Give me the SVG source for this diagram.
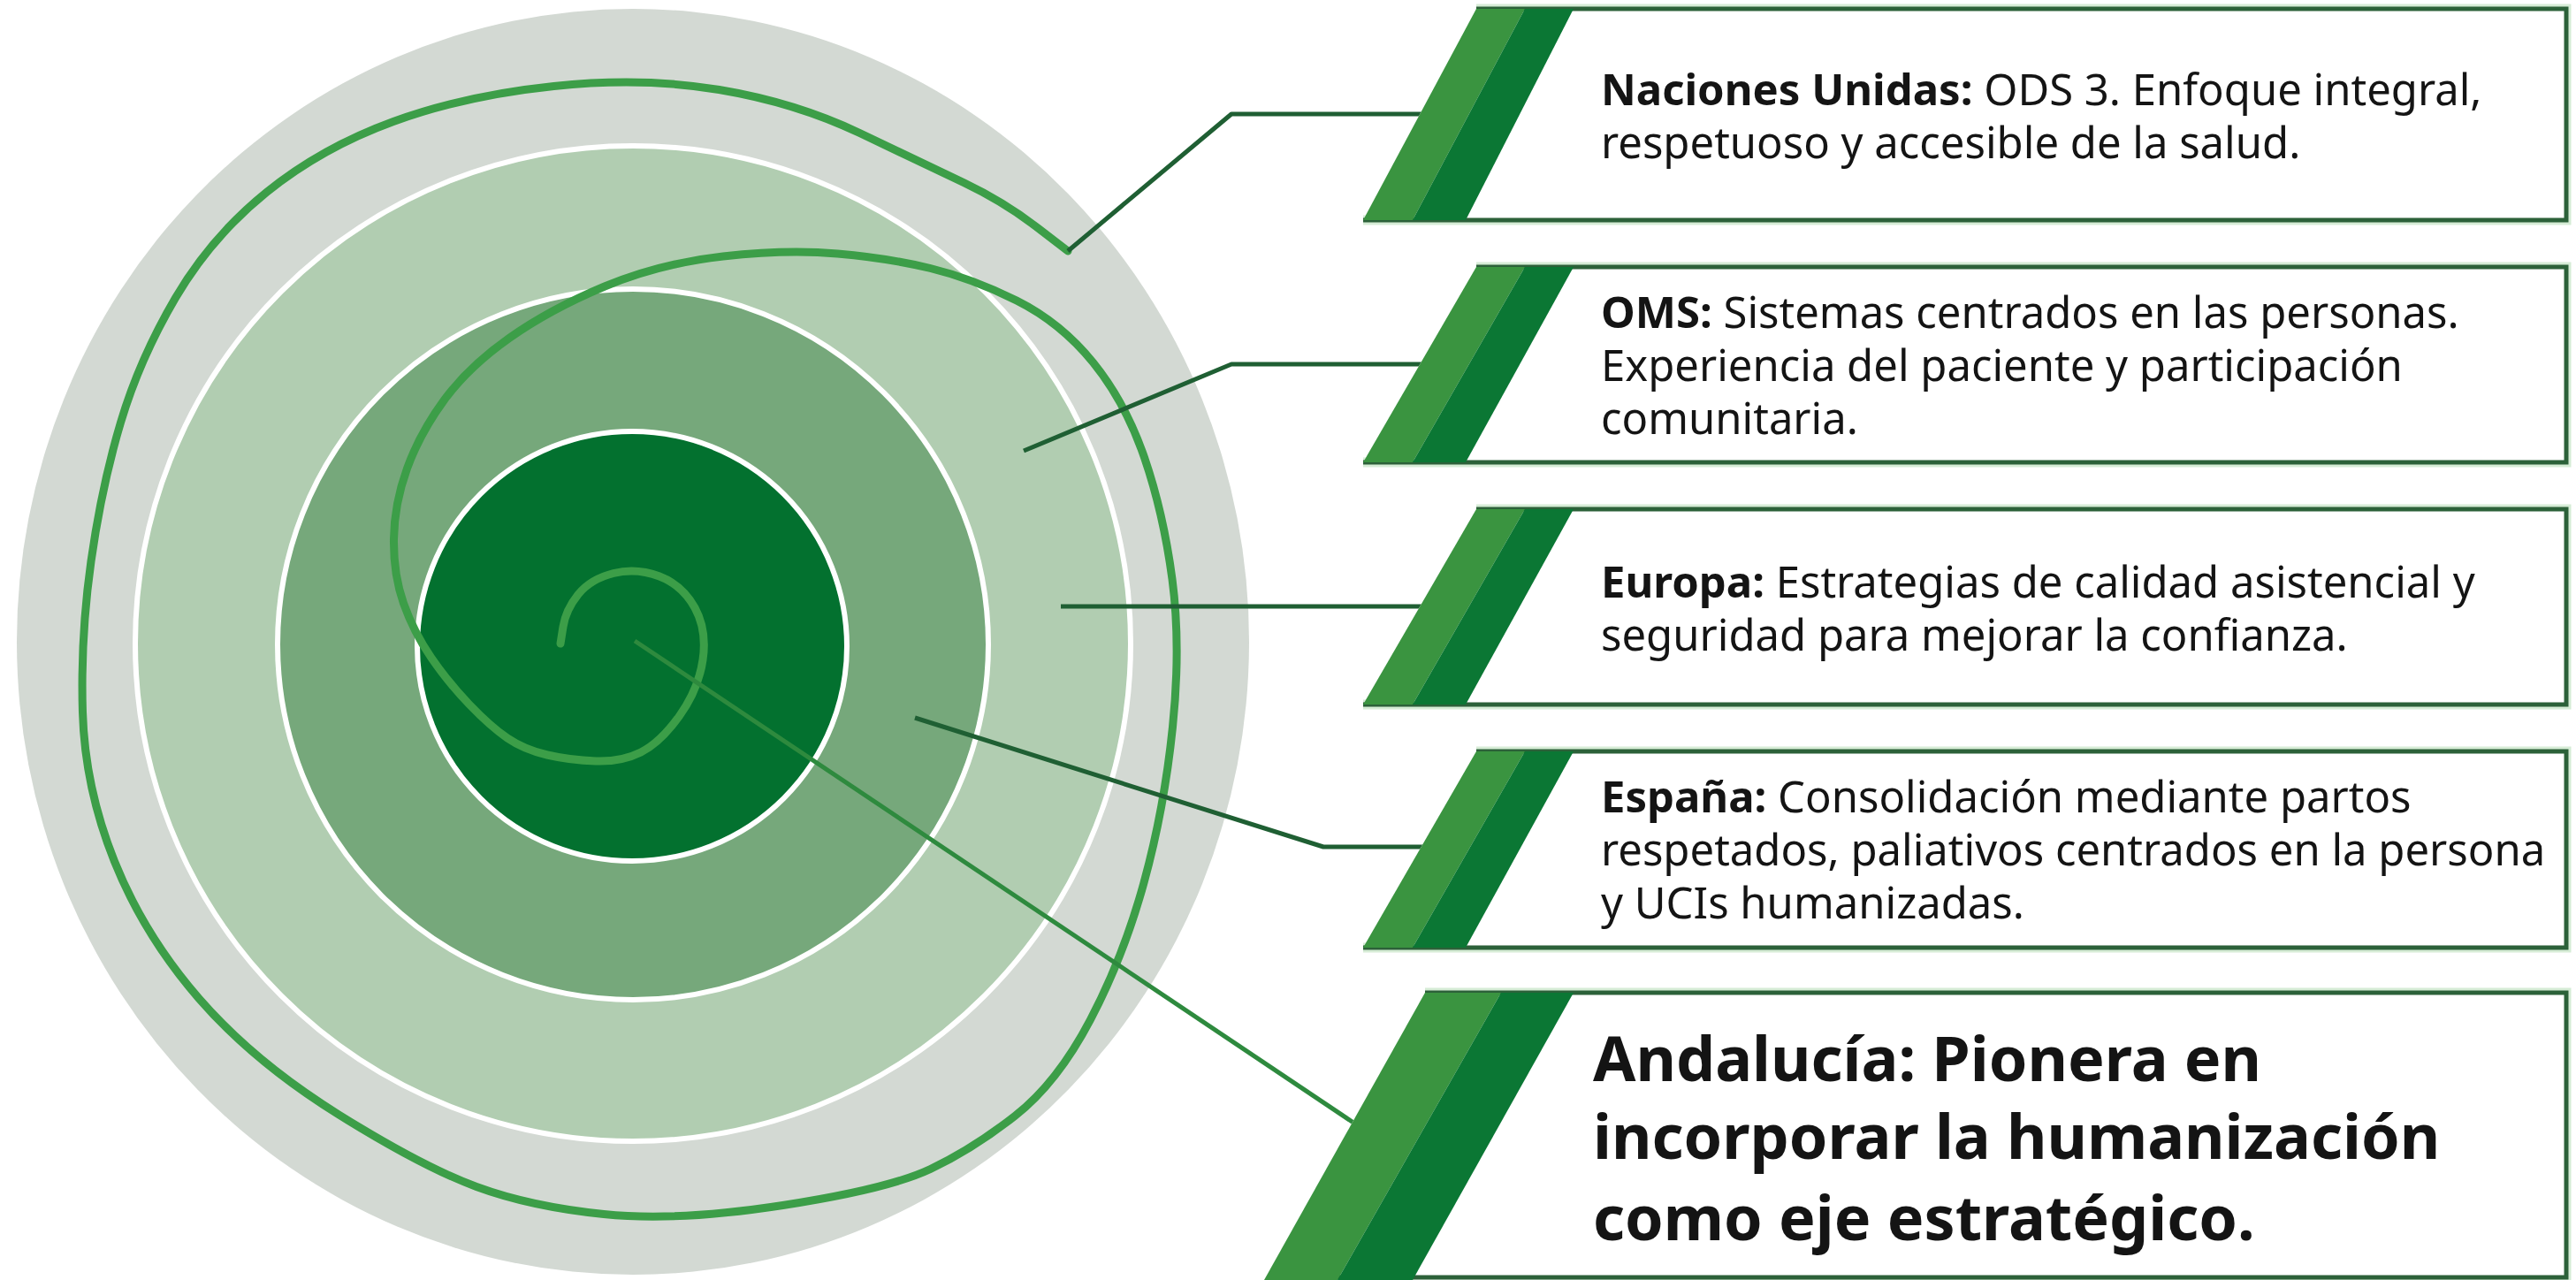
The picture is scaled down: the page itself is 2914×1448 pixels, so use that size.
<svg xmlns="http://www.w3.org/2000/svg" width="2914" height="1448" viewBox="0 0 2914 1448">
<style>
.t{font-family:'Noto Sans','Open Sans','Liberation Sans',sans-serif;font-size:49px;fill:#141414}
.b{font-weight:700}
.big{font-size:70px;font-weight:700}
.fill{fill:#fff}
.halo{fill:none;stroke:#d6ecd6;stroke-width:11}
.border{fill:none;stroke:#2c6139;stroke-width:5}
.sl{fill:#3a9440}
.sd{fill:#0b7734}
.conn{fill:none;stroke:#1f5f33;stroke-width:5;stroke-linejoin:round}
.ring{stroke:#fff;stroke-width:6}
</style>
<rect width="2914" height="1448" fill="#fff"/>
<g id="rings">
<ellipse cx="716" cy="726" rx="697" ry="716" fill="#d3d9d3"/>
<circle class="ring" cx="716" cy="728" r="563" fill="#b1cdb1"/>
<circle class="ring" cx="716" cy="729" r="402" fill="#76a87b"/>
<circle class="ring" cx="715" cy="731" r="243" fill="#03712f"/>
</g>
<g id="spiral">
<path d="M634,728 L637,709 Q640,690 654,672.5 Q668,655 694,648.5 Q720,642 746,652 Q772,662 786,687.5 Q800,713 795,746.5 Q790,780 768.5,810 Q747,840 725,851 Q703,862 674,861 Q645,860 619,854 Q593,848 574,835 Q555,822 531,797 Q507,772 487.5,743.5 Q468,715 456.5,682.5 Q445,650 445.5,610 Q446,570 460.5,530 Q475,490 502.5,452.5 Q530,415 576,382.5 Q622,350 684,324 Q746,298 818,290 Q890,282 947.5,287 Q1005,292 1052.5,303.5 Q1100,315 1150,340 Q1200,365 1236.5,410 Q1273,455 1294.5,517.5 Q1316,580 1326,655 Q1336,730 1326.5,822.5 Q1317,915 1294,998.5 Q1271,1082 1233.5,1153.5 Q1196,1225 1148,1262.5 Q1100,1300 1052.5,1322.5 Q1005,1345 885.5,1363.5 Q766,1382 683,1373.5 Q600,1365 539,1342.5 Q478,1320 382.5,1260.5 Q287,1201 225,1129.5 Q163,1058 129.5,974.5 Q96,891 93.5,805.5 Q91,720 103,635 Q115,550 136.5,478 Q158,406 198.5,337 Q239,268 301.5,217.5 Q364,167 445,137.5 Q526,108 626.5,97.5 Q727,87 813.5,101.5 Q900,116 972.5,150.5 Q1045,185 1090,206.5 Q1135,228 1171.5,256 L1208,284" fill="none" stroke="#3c9e48" stroke-width="9" stroke-linecap="round" stroke-linejoin="round"/>
</g>
<g id="connectors">
<path class="conn" d="M1208,284 L1393,129 L1630,129"/>
<path class="conn" d="M1158,510 L1393,412 L1630,412"/>
<path class="conn" d="M1200,686 L1630,686"/>
<path class="conn" d="M1035,812 L1497,958 L1630,958"/>
<path class="conn" d="M718,725 L1540,1276" style="stroke:#2e8a3e"/>
</g>
<g id="node-naciones-unidas">
<path class="halo" d="M1670,10 H2903 V249 H1542"/>
<polygon class="fill" points="1670,10 2903,10 2903,249 1542,249"/>
<path class="border" d="M1670,10 H2903 V249 H1542"/>
<polygon class="sl" points="1670,10 1725,10 1598,249 1542,249"/>
<polygon class="sd" points="1725,10 1780,10 1658,249 1598,249"/>
<text class="t" x="1811" y="119"><tspan class="b">Naciones Unidas:</tspan> ODS 3. Enfoque integral,</text>
<text class="t" x="1811" y="179">respetuoso y accesible de la salud.</text>
</g>
<g id="node-oms">
<path class="halo" d="M1670,302 H2903 V523 H1542"/>
<polygon class="fill" points="1670,302 2903,302 2903,523 1542,523"/>
<path class="border" d="M1670,302 H2903 V523 H1542"/>
<polygon class="sl" points="1670,302 1725,302 1598,523 1542,523"/>
<polygon class="sd" points="1725,302 1780,302 1658,523 1598,523"/>
<text class="t" x="1811" y="371"><tspan class="b">OMS:</tspan> Sistemas centrados en las personas.</text>
<text class="t" x="1811" y="431">Experiencia del paciente y participación</text>
<text class="t" x="1811" y="491">comunitaria.</text>
</g>
<g id="node-europa">
<path class="halo" d="M1670,576 H2903 V797 H1542"/>
<polygon class="fill" points="1670,576 2903,576 2903,797 1542,797"/>
<path class="border" d="M1670,576 H2903 V797 H1542"/>
<polygon class="sl" points="1670,576 1725,576 1598,797 1542,797"/>
<polygon class="sd" points="1725,576 1780,576 1658,797 1598,797"/>
<text class="t" x="1811" y="676"><tspan class="b">Europa:</tspan> Estrategias de calidad asistencial y</text>
<text class="t" x="1811" y="736">seguridad para mejorar la confianza.</text>
</g>
<g id="node-espana">
<path class="halo" d="M1670,850 H2903 V1072 H1542"/>
<polygon class="fill" points="1670,850 2903,850 2903,1072 1542,1072"/>
<path class="border" d="M1670,850 H2903 V1072 H1542"/>
<polygon class="sl" points="1670,850 1725,850 1598,1072 1542,1072"/>
<polygon class="sd" points="1725,850 1780,850 1658,1072 1598,1072"/>
<text class="t" x="1811" y="919"><tspan class="b">España:</tspan> Consolidación mediante partos</text>
<text class="t" x="1811" y="979">respetados, paliativos centrados en la persona</text>
<text class="t" x="1811" y="1039">y UCIs humanizadas.</text>
</g>
<g id="node-andalucia">
<path class="halo" d="M1612,1123 H2903 V1445 H1500"/>
<polygon class="fill" points="1612,1123 2903,1123 2903,1445 1430,1448"/>
<path class="border" d="M1612,1123 H2903 V1445 H1500"/>
<polygon class="sl" points="1612,1123 1698,1123 1513,1448 1430,1448"/>
<polygon class="sd" points="1698,1123 1780,1123 1598,1448 1513,1448"/>
<text class="t big" x="1802" y="1223">Andalucía: Pionera en</text>
<text class="t big" x="1802" y="1311">incorporar la humanización</text>
<text class="t big" x="1802" y="1403">como eje estratégico.</text>
</g>
</svg>
